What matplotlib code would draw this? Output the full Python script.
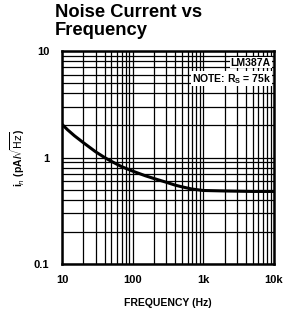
import matplotlib
matplotlib.use("Agg")
import matplotlib.pyplot as plt
from matplotlib.ticker import LogLocator, NullFormatter, FixedLocator, FixedFormatter

freq = [10, 12, 15, 20, 30, 40, 50, 70, 100, 150, 200, 300, 400, 500, 700, 1000, 2000, 5000, 10000]
noise = [2.05, 1.82, 1.6, 1.38, 1.13, 1.0, 0.92, 0.82, 0.745, 0.675, 0.635, 0.585, 0.55, 0.53, 0.505, 0.49, 0.485, 0.48, 0.48]

xticks = [10, 100, 1000, 10000]
xticklabels = ["10", "100", "1k", "10k"]
yticks = [0.1, 1, 10]
yticklabels = ["0.1", "1", "10"]

plt.rcParams['font.family'] = ['Liberation Sans', 'DejaVu Sans']

fig = plt.figure(figsize=(2.95, 3.14), dpi=100)
ax = fig.add_axes([62/295, 1-264/314, 212/295, 213/314])
ax.set_xscale('log')
ax.set_yscale('log')
ax.set_xlim(10, 10000)
ax.set_ylim(0.1, 10)

ax.plot(freq, noise, color='black', lw=2.2, solid_capstyle='butt')

ax.xaxis.set_major_locator(FixedLocator(xticks))
ax.xaxis.set_major_formatter(FixedFormatter(xticklabels))
ax.yaxis.set_major_locator(FixedLocator(yticks))
ax.yaxis.set_major_formatter(FixedFormatter(yticklabels))
ax.xaxis.set_minor_locator(LogLocator(base=10, subs=range(2, 10)))
ax.yaxis.set_minor_locator(LogLocator(base=10, subs=range(2, 10)))
ax.xaxis.set_minor_formatter(NullFormatter())
ax.yaxis.set_minor_formatter(NullFormatter())
ax.grid(which='both', color='black', lw=0.9)
ax.tick_params(which='both', length=0, labelsize=8)
for lab in ax.get_xticklabels() + ax.get_yticklabels():
    lab.set_fontweight('bold')
ax.tick_params(axis='x', pad=8)
ax.tick_params(axis='y', pad=9)
for s in ax.spines.values():
    s.set_linewidth(1.8)

ax.set_xlabel("FREQUENCY (Hz)", fontsize=7.5, fontweight='bold', labelpad=9)
ax.set_ylabel(r"i$_n$ (pA/$\sqrt{\mathrm{Hz}}$)", fontsize=7.5, fontweight='bold', labelpad=5)

ax.text(0.985, 0.945, "LM387A", transform=ax.transAxes, ha='right', va='center',
        fontsize=7.5, fontweight='bold', bbox=dict(facecolor='white', edgecolor='none', pad=0.5))
ax.text(0.985, 0.87, r"NOTE: R$_\mathregular{S}$ = 75k", transform=ax.transAxes, ha='right', va='center',
        fontsize=7.5, fontweight='bold', bbox=dict(facecolor='white', edgecolor='none', pad=0.5))

fig.text(55/295, 1-4/314, "Noise Current vs\nFrequency", ha='left', va='top',
         fontsize=13.2, fontweight='bold', linespacing=1.1)

fig.savefig("out.png", dpi=100)
